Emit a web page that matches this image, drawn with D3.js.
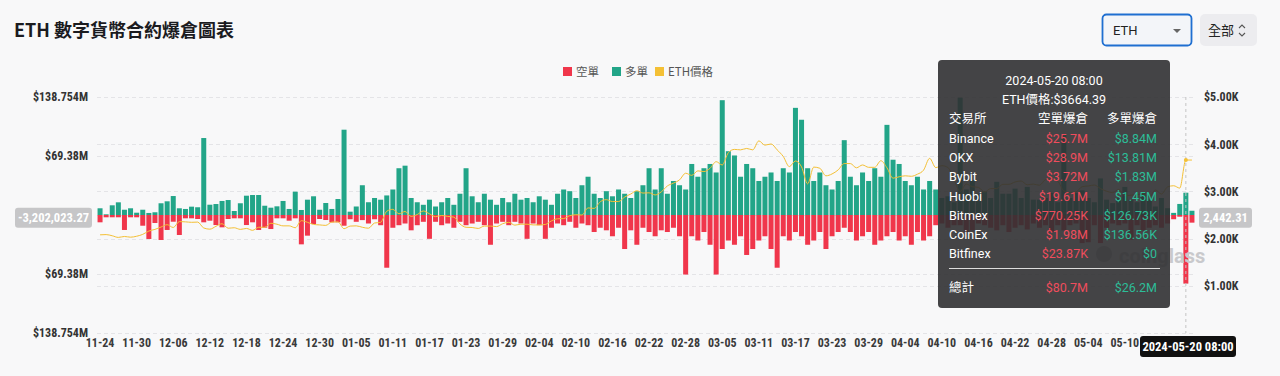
<!DOCTYPE html>
<html><head><meta charset="utf-8">
<script src="https://cdnjs.cloudflare.com/ajax/libs/d3/7.8.5/d3.min.js"></script>
<style>
html,body{margin:0;padding:0;background:#f8f8f9;}
svg{display:block;font-family:Roboto,"Noto Sans CJK TC",sans-serif;}
</style></head><body>
<svg id="c" width="1280" height="376"></svg>
<script>
// ---- data ----
const startDate = "2023-11-24";
const dayCount = 180;
const tickLabels = ["11-24","11-30","12-06","12-12","12-18","12-24","12-30","01-05","01-11","01-17","01-23","01-29","02-04","02-10","02-16","02-22","02-28","03-05","03-11","03-17","03-23","03-29","04-04","04-10","04-16","04-22","04-28","05-04","05-10"];
// long liquidations (M USD) - green, upward
const longLiq = [7.9,0.8,11.4,14.9,6.2,7.9,2.7,6.2,2.4,3.2,13.8,16.1,22.3,7.9,7.1,9.8,9.1,90.5,12.1,12.9,16.5,17.6,4.7,13.8,22.7,23.5,23.5,10.9,8.6,10.2,16.5,7.1,27.4,5.9,18.0,22.0,6.2,14.1,7.1,18.8,100.3,3.9,
10,35,15,20,18,23,30,55,58,20,15,12,18,10,15,20,12,25,
55,22,15,25,18,12,20,15,25,18,20,15,22,18,12,25,30,28,20,35,
45,25,20,28,22,30,25,20,28,35,55,30,55,25,40,35,30,60,45,55,
60,50,135,75,70,45,60,55,40,45,50,40,55,50,126,112,55,40,50,35,
30,40,88,45,35,50,40,55,45,106,65,60,40,35,45,30,40,30,20,22,
15,138,30,41,25,28,20,39,25,25,31,20,33,18,18,20,26,15,94,20,
26,29,20,15,43,18,14,20,33,18,15,26,18,10,20,8,2.5,13,26.2,5];
// short liquidations (M USD) - red, downward
const shortLiq = [8.6,2.7,2.7,2.7,17.6,2.7,2.7,12.6,28.2,9.4,29.4,17.6,7.9,23.5,3.9,3.9,4.7,8.6,6.7,11.8,14.5,4.7,3.9,3.9,11.8,8.6,17.6,14.9,16.5,3.9,3.9,6.7,3.9,34.5,24.3,10.6,4.7,5.9,8.6,8.6,12.6,5,
8,6,10,5,12,62,15,12,10,18,12,8,28,8,12,10,15,8,
12,10,8,12,35,10,8,12,8,10,28,10,12,28,15,10,12,8,15,10,
12,20,15,18,25,15,40,18,35,15,20,25,18,20,15,25,70,25,30,20,
35,70,40,30,35,25,47,40,30,25,40,62,25,30,20,25,35,30,20,40,
25,20,15,20,30,25,20,35,30,25,20,30,25,35,20,30,25,12,10,15,
12,12,20,18,10,12,15,18,12,20,15,12,17,10,15,12,20,12,18,12,
10,33,32,12,33,15,10,12,10,29,12,18,15,12,15,10,5,2,80.7,9];
// ETH price (USD)
const ethPrice = [2080,2085,2060,2025,2045,2030,2050,2090,2160,2195,2245,2295,2235,2360,2355,2345,2350,2225,2200,2260,2315,2220,2230,2195,2215,2175,2240,2240,2325,2305,2270,2270,2230,2380,2345,2300,2290,2280,2350,2355,2210,2265,
2270,2240,2220,2330,2345,2580,2620,2525,2575,2470,2510,2585,2525,2465,2490,2470,2455,2310,2240,2235,2215,2265,2265,2255,2315,2345,2285,2305,2305,2290,2290,2300,2375,2420,2425,2485,2505,2500,2650,2640,2780,2825,2785,2785,2880,2945,3015,2965,2970,2925,2990,3115,3175,3245,3385,3340,3435,3420,3490,3630,3560,3820,3890,3880,3910,3880,4070,3980,4005,3880,3740,3525,3645,3520,3160,3515,3490,3330,3370,3455,3590,3590,3500,3560,3510,3510,3650,3500,3280,3310,3330,3320,3365,3450,3700,3505,3545,3505,3245,3000,3155,3100,3085,2985,3060,3060,3150,3150,3200,3220,3140,3155,3130,3250,3265,3215,3010,2975,2990,3100,3115,3135,3060,3005,2975,3040,2910,2920,2930,2950,2880,3030,2945,3095,3120,3070,3664.39,3664.39];
const leftTicks = [138.754, 69.38, 0, -69.38, -138.754];
const rightTicks = [1000, 2000, 3000, 4000, 5000];
const exchanges = ["Binance","OKX","Bybit","Huobi","Bitmex","CoinEx","Bitfinex"];
const exShort = ["$25.7M","$28.9M","$3.72M","$19.61M","$770.25K","$1.98M","$23.87K"];
const exLong = ["$8.84M","$13.81M","$1.83M","$1.45M","$126.73K","$136.56K","$0"];
const hoverIndex = 178;

// ---- build ----
const parse = d3.timeParse("%Y-%m-%d");
const fmt = d3.timeFormat("%m-%d");
const dates = d3.timeDay.range(parse(startDate), d3.timeDay.offset(parse(startDate), dayCount)).map(fmt);
const data = dates.map((d,i)=>({d, long:longLiq[i], short:shortLiq[i], price:ethPrice[i]}));

const svg = d3.select("#c");
const RED="#f0364b", GREEN="#22a588", YEL="#f4c035";
const NUMF = "'Liberation Sans Narrow','Roboto Condensed',Roboto,sans-serif";

// title
svg.append("text").attr("x",14).attr("y",37).attr("font-size",18).attr("font-weight",700)
  .attr("fill","#1b1b1f").attr("font-family","'Noto Sans CJK TC',Roboto,sans-serif").text("ETH 數字貨幣合約爆倉圖表");
// select
svg.append("rect").attr("x",1102.5).attr("y",14.5).attr("width",89).attr("height",31).attr("rx",4)
  .attr("fill","#f3f5f9").attr("stroke","#1f6fd1").attr("stroke-width",1.8);
svg.append("text").attr("x",1113).attr("y",35).attr("font-size",13).attr("fill","#222").text("ETH");
svg.append("path").attr("d","M1173,29 L1181,29 L1177,33 Z").attr("fill","#666");
svg.append("rect").attr("x",1200).attr("y",14).attr("width",57).attr("height",32).attr("rx",5).attr("fill","#ececef");
svg.append("text").attr("x",1208).attr("y",35).attr("font-size",13).attr("fill","#222")
  .attr("font-family","'Noto Sans CJK TC',sans-serif").text("全部");
svg.append("path").attr("d","M1239,28 L1242,25 L1245,28 M1239,33 L1242,36 L1245,33").attr("fill","none").attr("stroke","#555").attr("stroke-width",1.1);

// legend
const legend = [["空單",RED,563],["多單",GREEN,612],["ETH價格",YEL,655]];
legend.forEach(([t,c,x])=>{
  svg.append("rect").attr("x",x).attr("y",67).attr("width",9).attr("height",9).attr("fill",c);
  svg.append("text").attr("x",x+13).attr("y",76).attr("font-size",11.5).attr("fill","#555")
    .attr("font-family","'Noto Sans CJK TC',Roboto,sans-serif").text(t);
});

// scales
const x = d3.scaleBand().domain(dates).range([97,1195]).paddingInner(0.18).paddingOuter(0.09);
const yL = d3.scaleLinear().domain([-138.754,138.754]).range([333,97]);
const yR = d3.scaleLinear().domain([0,5000]).range([333,97]);

// grid
const gridYs = leftTicks.map(v=>yL(v)).concat(rightTicks.map(v=>yR(v)));
svg.append("g").selectAll("line").data(gridYs).join("line")
  .attr("x1",97).attr("x2",1195).attr("y1",d=>Math.round(d)+0.5).attr("y2",d=>Math.round(d)+0.5)
  .attr("stroke","#e4e4e7").attr("stroke-dasharray","4,3");

// left axis
const axL = d3.axisLeft(yL).tickValues(leftTicks).tickSize(0).tickPadding(0)
  .tickFormat(v=> v===0 ? "" : "$"+Math.abs(v)+"M");
const gL = svg.append("g").attr("transform","translate(88,0)").call(axL);
gL.select(".domain").remove();
gL.selectAll("text").attr("font-size",12).attr("font-weight",700).attr("fill","#333").attr("font-family",NUMF);

// right axis
const axR = d3.axisRight(yR).tickValues(rightTicks).tickSize(0).tickPadding(0)
  .tickFormat(v=>"$"+(v/1000).toFixed(2)+"K");
const gR = svg.append("g").attr("transform","translate(1204,0)").call(axR);
gR.select(".domain").remove();
gR.selectAll("text").attr("font-size",12).attr("font-weight",700).attr("fill","#333").attr("font-family",NUMF);

// bottom axis
const axB = d3.axisBottom(x).tickValues(tickLabels).tickSize(0).tickPadding(0);
const gB = svg.append("g").attr("transform","translate(0,338)").call(axB);
gB.select(".domain").remove();
gB.selectAll("text").attr("font-size",12).attr("font-weight",700).attr("fill","#3a3a3a").attr("font-family",NUMF);

// bars
svg.append("g").selectAll("rect").data(data).join("rect")
  .attr("x",d=>x(d.d)).attr("width",x.bandwidth())
  .attr("y",d=>yL(d.long)).attr("height",d=>yL(0)-yL(d.long)).attr("fill",GREEN);
svg.append("g").selectAll("rect").data(data).join("rect")
  .attr("x",d=>x(d.d)).attr("width",x.bandwidth())
  .attr("y",yL(0)).attr("height",d=>yL(-d.short)-yL(0)).attr("fill",RED);

// price line
const line = d3.line().x(d=>x(d.d)+x.bandwidth()/2).y(d=>yR(d.price)).curve(d3.curveMonotoneX);
svg.append("path").datum(data).attr("d",line).attr("fill","none").attr("stroke",YEL).attr("stroke-width",1);

// watermark
svg.append("circle").attr("cx",1104).attr("cy",254).attr("r",8).attr("fill","#c9c9cc");
svg.append("text").attr("x",1119).attr("y",263).attr("font-size",20).attr("font-weight",700)
  .attr("fill","#c9c9cc").text("coinglass");

// crosshair
const hd = data[hoverIndex];
const hx = x(hd.d)+x.bandwidth()/2;
svg.append("line").attr("x1",hx).attr("x2",hx).attr("y1",97).attr("y2",333)
  .attr("stroke","#c4c4c4").attr("stroke-dasharray","3,3");
svg.append("circle").attr("cx",hx).attr("cy",yR(hd.price)).attr("r",2).attr("fill",YEL);

// pointer labels
const pyL = yL(-3.20202327);
svg.append("rect").attr("x",15).attr("y",pyL-10).attr("width",77).attr("height",20).attr("rx",3).attr("fill","#c6c6c8");
svg.append("text").attr("x",53.5).attr("y",pyL+4.5).attr("text-anchor","middle").attr("font-size",12.5).attr("font-weight",700).attr("font-family",NUMF).attr("fill","#fff").text("-3,202,023.27");
const pyR = yR(2442.31);
svg.append("rect").attr("x",1199).attr("y",pyR-10).attr("width",53).attr("height",20).attr("rx",3).attr("fill","#c6c6c8");
svg.append("text").attr("x",1225.5).attr("y",pyR+4.5).attr("text-anchor","middle").attr("font-size",12.5).attr("font-weight",700).attr("font-family",NUMF).attr("fill","#fff").text("2,442.31");
svg.append("rect").attr("x",1140).attr("y",336).attr("width",96).attr("height",21).attr("rx",3).attr("fill","#111");
svg.append("text").attr("x",1188).attr("y",351).attr("text-anchor","middle").attr("font-size",12.5).attr("font-weight",700).attr("font-family",NUMF).attr("fill","#fff").text("2024-05-20 08:00");

// tooltip
const tg = svg.append("g");
tg.append("rect").attr("x",938).attr("y",60).attr("width",232).attr("height",248).attr("rx",4).attr("fill","rgba(48,48,50,0.9)");
const TF = "Roboto,'Noto Sans CJK TC',sans-serif";
tg.append("text").attr("x",1054).attr("y",85).attr("text-anchor","middle").attr("font-size",12.5).attr("fill","#fff").attr("font-family",TF).text("2024-05-20 08:00");
tg.append("text").attr("x",1054).attr("y",104).attr("text-anchor","middle").attr("font-size",12.5).attr("fill","#fff").attr("font-family",TF).text("ETH價格:$3664.39");
tg.append("text").attr("x",949).attr("y",123).attr("font-size",12.5).attr("fill","#fff").attr("font-family",TF).text("交易所");
tg.append("text").attr("x",1088).attr("y",123).attr("text-anchor","end").attr("font-size",12.5).attr("fill","#fff").attr("font-family",TF).text("空單爆倉");
tg.append("text").attr("x",1157).attr("y",123).attr("text-anchor","end").attr("font-size",12.5).attr("fill","#fff").attr("font-family",TF).text("多單爆倉");
exchanges.forEach((e,i)=>{
  const yy = 143 + i*19.2;
  tg.append("text").attr("x",949).attr("y",yy).attr("font-size",12.5).attr("fill","#fff").attr("font-family",TF).text(e);
  tg.append("text").attr("x",1088).attr("y",yy).attr("text-anchor","end").attr("font-size",12.5).attr("fill","#ef4d5d").attr("font-family",TF).text(exShort[i]);
  tg.append("text").attr("x",1157).attr("y",yy).attr("text-anchor","end").attr("font-size",12.5).attr("fill","#2dbd98").attr("font-family",TF).text(exLong[i]);
});
tg.append("line").attr("x1",949).attr("x2",1160).attr("y1",268.5).attr("y2",268.5).attr("stroke","#ddd").attr("stroke-width",1);
tg.append("text").attr("x",949).attr("y",292).attr("font-size",12.5).attr("fill","#fff").attr("font-family",TF).text("總計");
tg.append("text").attr("x",1088).attr("y",292).attr("text-anchor","end").attr("font-size",12.5).attr("fill","#ef4d5d").attr("font-family",TF).text("$80.7M");
tg.append("text").attr("x",1157).attr("y",292).attr("text-anchor","end").attr("font-size",12.5).attr("fill","#2dbd98").attr("font-family",TF).text("$26.2M");
</script></body></html>
